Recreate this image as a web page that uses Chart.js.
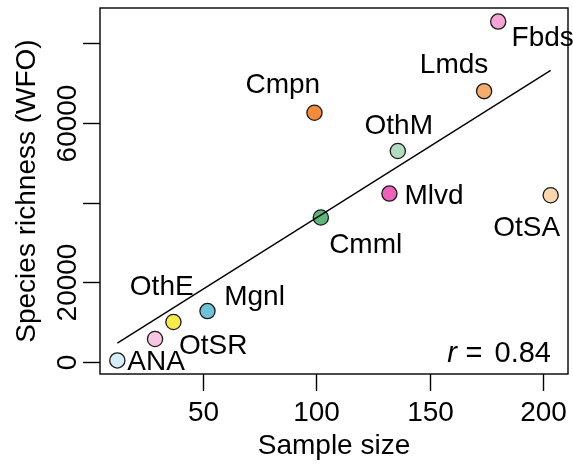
<!DOCTYPE html>
<html>
<head>
<meta charset="utf-8">
<script src="https://cdn.jsdelivr.net/npm/chart.js@4/dist/chart.umd.min.js"></script>
<style>
  html, body { margin: 0; padding: 0; background: #fff; }
  #wrap { width: 573px; height: 464px; }
</style>
</head>
<body>
<div id="wrap"><canvas id="chart" width="573" height="464"></canvas></div>
<script>
// Sample size vs. species richness per group
const categories = ['ANA', 'OtSR', 'OthE', 'Mgnl', 'Cmpn', 'Cmml', 'Mlvd', 'OthM', 'Lmds', 'Fbds', 'OtSA'];
const sampleSize = [12.5, 29.1, 37.2, 52.2, 99.3, 102.1, 132.3, 136, 174, 180.2, 203.3];
const speciesRichness = [300, 5700, 9960, 12720, 62580, 36240, 42260, 52950, 68000, 85500, 41830];

const xTickValues = [50, 100, 150, 200];
const xTickLabels = ['50', '100', '150', '200'];
const yTickValues = [0, 20000, 40000, 60000, 80000];
const yTickLabels = ['0', '20000', '', '60000', ''];
const correlationText = '0.84';

// Styling
const pointColors = ['#d6eefa', '#f8c5e2', '#f8ea4c', '#72c2d7', '#f28b3b', '#5db77a',
                     '#ee63ba', '#b2dbbf', '#f5ad6f', '#f5a5d5', '#fcd6ae'];
// label placement: offset (px) of the text's left baseline from the point centre
const labelOffsets = {
  ANA: [10, 9.3], OtSR: [24, 15], OthE: [-43.6, -27], Mgnl: [16.7, -6],
  Cmpn: [-69, -19.3], Cmml: [8.3, 36], Mlvd: [15, 10], OthM: [-33.3, -17.4],
  Lmds: [-64.3, -18], Fbds: [13.4, 24], OtSA: [-57.4, 40.3]
};
const FONT = '"Liberation Sans", Arial, Helvetica, sans-serif';
const FS = 28;

// axis ranges padded by 4% on each side
function paddedRange(vals) {
  const lo = Math.min(...vals), hi = Math.max(...vals), d = (hi - lo) * 0.04;
  return [lo - d, hi + d];
}
const [xMin, xMax] = paddedRange(sampleSize);
const [yMin, yMax] = paddedRange(speciesRichness);

// least-squares fit of richness on sample size
const n = sampleSize.length;
const mx = sampleSize.reduce((a, b) => a + b, 0) / n;
const my = speciesRichness.reduce((a, b) => a + b, 0) / n;
let sxy = 0, sxx = 0;
for (let i = 0; i < n; i++) {
  sxy += (sampleSize[i] - mx) * (speciesRichness[i] - my);
  sxx += (sampleSize[i] - mx) ** 2;
}
const slope = sxy / sxx, intercept = my - slope * mx;
const xLo = Math.min(...sampleSize), xHi = Math.max(...sampleSize);
const fitLine = [{ x: xLo, y: intercept + slope * xLo }, { x: xHi, y: intercept + slope * xHi }];

const points = sampleSize.map((x, i) => ({ x, y: speciesRichness[i] }));

const axesPlugin = {
  id: 'baseAxes',
  afterDatasetsDraw(chart) {
    const { ctx, chartArea: a, scales } = chart;
    const xs = scales.x, ys = scales.y;
    ctx.save();
    ctx.strokeStyle = '#000';
    ctx.fillStyle = '#000';
    ctx.lineWidth = 1.4;

    // point labels
    ctx.font = `${FS}px ${FONT}`;
    ctx.textAlign = 'left';
    ctx.textBaseline = 'alphabetic';
    categories.forEach((c, i) => {
      const px = xs.getPixelForValue(sampleSize[i]);
      const py = ys.getPixelForValue(speciesRichness[i]);
      const off = labelOffsets[c];
      ctx.fillText(c, px + off[0], py + off[1]);
    });

    // frame
    ctx.strokeRect(a.left, a.top, a.right - a.left, a.bottom - a.top);

    // x ticks
    ctx.textAlign = 'center';
    xTickValues.forEach((v, i) => {
      const px = Math.round(xs.getPixelForValue(v)) + 0.5;
      ctx.beginPath();
      ctx.moveTo(px, a.bottom);
      ctx.lineTo(px, a.bottom + 17);
      ctx.stroke();
      ctx.fillText(xTickLabels[i], px, a.bottom + 46.7);
    });
    ctx.fillText('Sample size', (a.left + a.right) / 2, a.bottom + 80);

    // y ticks (labels parallel to the axis)
    yTickValues.forEach((v, i) => {
      const py = Math.round(ys.getPixelForValue(v)) + 0.5;
      ctx.beginPath();
      ctx.moveTo(a.left, py);
      ctx.lineTo(a.left - 17, py);
      ctx.stroke();
      if (yTickLabels[i]) {
        ctx.save();
        ctx.translate(a.left - 24.5, py);
        ctx.rotate(-Math.PI / 2);
        ctx.fillText(yTickLabels[i], 0, 0);
        ctx.restore();
      }
    });
    ctx.save();
    ctx.translate(35, (a.top + a.bottom) / 2);
    ctx.rotate(-Math.PI / 2);
    ctx.fillText('Species richness (WFO)', 0, 0);
    ctx.restore();

    // correlation annotation: italic r, equals sign, value
    const baseY = a.bottom - 12.3;
    const fsR = 29;
    ctx.font = `italic ${fsR}px ${FONT}`;
    ctx.textAlign = 'center';
    ctx.fillText('r', a.right - 116, baseY);
    ctx.font = `${fsR}px ${FONT}`;
    ctx.fillText('=', a.right - 94, baseY);
    ctx.textAlign = 'right';
    ctx.fillText(correlationText, a.right - 17, baseY);
    ctx.restore();
  }
};

new Chart(document.getElementById('chart'), {
  type: 'scatter',
  data: {
    datasets: [
      {
        type: 'line',
        data: fitLine,
        borderColor: '#000',
        borderWidth: 1.4,
        pointRadius: 0,
        fill: false,
        order: 0
      },
      {
        data: points,
        pointRadius: 7.6,
        pointBorderWidth: 1.3,
        pointBackgroundColor: pointColors,
        pointBorderColor: '#1a1a1a',
        order: 1
      }
    ]
  },
  options: {
    responsive: false,
    animation: false,
    devicePixelRatio: 1,
    layout: { autoPadding: false, padding: { top: 8, right: 5, left: 0, bottom: 0 } },
    plugins: { legend: { display: false }, tooltip: { enabled: false } },
    scales: {
      x: {
        type: 'linear', min: xMin, max: xMax,
        grid: { display: false }, border: { display: false },
        ticks: { display: false },
        afterFit: s => { s.height = 90; }
      },
      y: {
        type: 'linear', min: yMin, max: yMax,
        grid: { display: false }, border: { display: false },
        ticks: { display: false },
        afterFit: s => { s.width = 100; }
      }
    }
  },
  plugins: [axesPlugin]
});
</script>
</body>
</html>
